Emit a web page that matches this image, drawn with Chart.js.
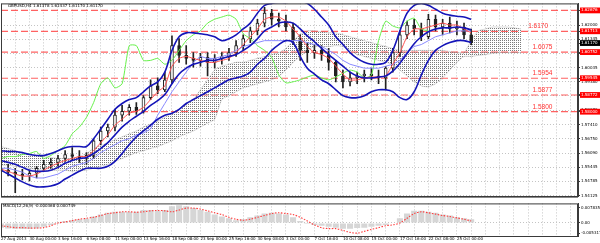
<!DOCTYPE html>
<html>
<head>
<meta charset="utf-8">
<script src="https://cdn.jsdelivr.net/npm/chart.js@4.4.1/dist/chart.umd.min.js"></script>
<style>
  html, body { margin: 0; padding: 0; background: #fff; }
  #wrap { position: relative; width: 600px; height: 243px; overflow: hidden; font-family: "DejaVu Sans", sans-serif; }
  .box { position: absolute; left: 0; width: 600px; }
  .hdr { position: absolute; left: 8px; font-size: 4px; color: #000; white-space: nowrap; }
</style>
</head>
<body>
<div id="wrap">
  <div class="box" style="top:0;height:200px"><canvas id="main"></canvas></div>
  <div class="box" style="top:200px;height:43px"><canvas id="macd"></canvas></div>
  <div class="hdr" style="top:3px">GBPUSD,H4 1.61378 1.61437 1.61170 1.61170</div>
  <div class="hdr" style="top:203px;left:3px">MACD(12,26,9) -0.000368 0.000749</div>
</div>
<script>
// ---- data (H4 bars, one slot = 4 bars) ----
const slotCount = 82;
const timeLabels = ['27 Aug 2013', '30 Aug 00:00', '3 Sep 16:00', '6 Sep 08:00', '11 Sep 00:00', '13 Sep 16:00',
  '18 Sep 08:00', '23 Sep 00:00', '25 Sep 16:00', '30 Sep 08:00', '3 Oct 00:00', '7 Oct 16:00',
  '10 Oct 08:00', '15 Oct 00:00', '17 Oct 16:00', '22 Oct 08:00', '25 Oct 00:00'];

const opens = [1.5539,1.5530,1.5521,1.5512,1.5503,1.5516,1.5539,1.5557,1.5566,1.5584,1.5602,1.5593,1.5584,1.5598,1.5666,1.5711,1.5729,1.5784,1.5802,1.5820,1.5802,1.5865,1.5919,1.5901,1.5947,1.6105,1.6060,1.6046,1.6037,1.6051,1.6028,1.6046,1.6055,1.6073,1.6105,1.6137,1.6173,1.6209,1.6255,1.6227,1.6218,1.6191,1.6128,1.6083,1.6073,1.6083,1.6064,1.6028,1.5965,1.5938,1.5956,1.5965,1.5974,1.5965,1.5956,1.6001,1.6073,1.6155,1.6200,1.6182,1.6146,1.6227,1.6191,1.6209,1.6182,1.6191,1.6155];
const highs = [1.5562,1.5557,1.5539,1.5534,1.5530,1.5548,1.5575,1.5584,1.5598,1.5620,1.5634,1.5620,1.5611,1.5675,1.5729,1.5743,1.5811,1.5829,1.5833,1.5842,1.5874,1.5947,1.5956,1.5983,1.6150,1.6137,1.6105,1.6073,1.6069,1.6073,1.6064,1.6073,1.6092,1.6128,1.6155,1.6191,1.6227,1.6282,1.6273,1.6255,1.6246,1.6209,1.6155,1.6119,1.6110,1.6105,1.6092,1.6037,1.5992,1.5983,1.5983,1.5992,1.6001,1.5992,1.6010,1.6092,1.6173,1.6218,1.6227,1.6209,1.6250,1.6246,1.6227,1.6237,1.6218,1.6209,1.6182];
const lows = [1.5512,1.5503,1.5426,1.5485,1.5480,1.5494,1.5530,1.5539,1.5548,1.5571,1.5575,1.5566,1.5557,1.5584,1.5648,1.5684,1.5711,1.5756,1.5784,1.5788,1.5793,1.5856,1.5883,1.5892,1.5929,1.6028,1.6019,1.6006,1.6010,1.5965,1.6001,1.6019,1.6037,1.6055,1.6083,1.6119,1.6155,1.6191,1.6200,1.6191,1.6173,1.6110,1.6037,1.6028,1.6046,1.6037,1.5992,1.5938,1.5910,1.5919,1.5929,1.5938,1.5947,1.5929,1.5901,1.5983,1.6055,1.6137,1.6155,1.6128,1.6137,1.6173,1.6155,1.6164,1.6155,1.6137,1.6110];
const closes = [1.5530,1.5521,1.5512,1.5503,1.5516,1.5539,1.5557,1.5566,1.5584,1.5602,1.5593,1.5584,1.5598,1.5666,1.5711,1.5729,1.5784,1.5802,1.5820,1.5802,1.5865,1.5919,1.5901,1.5947,1.6105,1.6060,1.6046,1.6037,1.6051,1.6028,1.6046,1.6055,1.6073,1.6105,1.6137,1.6173,1.6209,1.6255,1.6227,1.6218,1.6191,1.6128,1.6083,1.6073,1.6083,1.6064,1.6028,1.5965,1.5938,1.5956,1.5965,1.5974,1.5965,1.5956,1.6001,1.6073,1.6155,1.6200,1.6182,1.6146,1.6227,1.6191,1.6209,1.6182,1.6191,1.6155,1.6117];

// Bollinger bands
const bbUpper = [1.5620,1.5616,1.5616,1.5611,1.5602,1.5598,1.5598,1.5607,1.5620,1.5634,1.5639,1.5639,1.5639,1.5675,1.5720,1.5765,1.5811,1.5838,1.5856,1.5865,1.5892,1.5919,1.5938,1.5983,1.6083,1.6146,1.6164,1.6164,1.6160,1.6155,1.6146,1.6128,1.6137,1.6155,1.6182,1.6209,1.6255,1.6291,1.6300,1.6304,1.6304,1.6309,1.6309,1.6300,1.6273,1.6237,1.6200,1.6146,1.6110,1.6073,1.6046,1.6028,1.6019,1.6019,1.6028,1.6083,1.6173,1.6255,1.6291,1.6300,1.6291,1.6273,1.6255,1.6246,1.6241,1.6237,1.6227];
const bbMiddle = [1.5575,1.5566,1.5557,1.5543,1.5530,1.5525,1.5525,1.5530,1.5543,1.5562,1.5575,1.5584,1.5589,1.5607,1.5630,1.5657,1.5693,1.5729,1.5756,1.5779,1.5802,1.5829,1.5851,1.5879,1.5929,1.5974,1.6001,1.6019,1.6028,1.6037,1.6037,1.6046,1.6055,1.6064,1.6083,1.6105,1.6137,1.6173,1.6191,1.6209,1.6214,1.6209,1.6182,1.6150,1.6123,1.6092,1.6064,1.6037,1.6010,1.5983,1.5965,1.5956,1.5956,1.5960,1.5965,1.5987,1.6024,1.6069,1.6114,1.6146,1.6169,1.6182,1.6187,1.6187,1.6191,1.6187,1.6178];
const bbLower = [1.5530,1.5512,1.5494,1.5476,1.5462,1.5453,1.5453,1.5457,1.5467,1.5489,1.5507,1.5525,1.5539,1.5539,1.5539,1.5548,1.5571,1.5607,1.5648,1.5684,1.5711,1.5738,1.5765,1.5784,1.5793,1.5811,1.5838,1.5856,1.5874,1.5892,1.5910,1.5929,1.5947,1.5956,1.5965,1.5983,1.6019,1.6046,1.6083,1.6110,1.6128,1.6119,1.6055,1.6001,1.5974,1.5947,1.5929,1.5901,1.5874,1.5865,1.5865,1.5874,1.5892,1.5901,1.5901,1.5892,1.5865,1.5856,1.5892,1.5969,1.6037,1.6083,1.6105,1.6119,1.6128,1.6128,1.6119];

// Ichimoku
const tenkan = [1.5534,1.5525,1.5512,1.5503,1.5503,1.5512,1.5530,1.5548,1.5562,1.5575,1.5584,1.5593,1.5593,1.5620,1.5657,1.5693,1.5738,1.5765,1.5793,1.5802,1.5820,1.5856,1.5892,1.5919,1.6010,1.6046,1.6055,1.6046,1.6037,1.6028,1.6028,1.6037,1.6046,1.6073,1.6110,1.6146,1.6182,1.6227,1.6237,1.6237,1.6218,1.6182,1.6146,1.6101,1.6073,1.6064,1.6046,1.6010,1.5974,1.5947,1.5947,1.5956,1.5960,1.5960,1.5965,1.6019,1.6073,1.6146,1.6182,1.6182,1.6191,1.6200,1.6209,1.6200,1.6200,1.6182,1.6164];
const kijun = [1.5539,1.5539,1.5530,1.5521,1.5503,1.5494,1.5494,1.5503,1.5512,1.5530,1.5548,1.5557,1.5566,1.5584,1.5611,1.5630,1.5648,1.5666,1.5675,1.5693,1.5702,1.5720,1.5784,1.5838,1.5892,1.5938,1.5983,1.6028,1.6055,1.6046,1.6046,1.6055,1.6064,1.6083,1.6101,1.6110,1.6119,1.6128,1.6128,1.6128,1.6128,1.6128,1.6128,1.6119,1.6110,1.6101,1.6083,1.6064,1.6037,1.6019,1.6010,1.6001,1.6001,1.6001,1.6010,1.6019,1.6037,1.6073,1.6101,1.6110,1.6128,1.6146,1.6155,1.6164,1.6173,1.6173,1.6173];
const chikou = [1.5584,1.5593,1.5593,1.5602,1.5607,1.5616,1.5584,1.5598,1.5620,1.5643,1.5698,1.5729,1.5774,1.5842,1.5929,1.5956,1.5910,1.5929,1.6105,1.6105,1.6037,1.6037,1.6046,1.6019,1.6037,1.6083,1.6128,1.6155,1.6173,1.6209,1.6227,1.6237,1.6246,1.6227,1.6160,1.6137,1.6105,1.6083,1.6051,1.5969,1.5933,1.5938,1.5947,1.5960,1.5969,1.5956,1.5947,1.5960,1.5978,1.5992,1.5983,1.5956,1.5969,1.6128,1.6218,1.6196,1.6187,1.6218,1.6232,1.6182,1.6173];
const spanA = [1.5639,1.5630,1.5620,1.5611,1.5602,1.5598,1.5593,1.5589,1.5584,1.5584,1.5584,1.5593,1.5607,1.5630,1.5643,1.5657,1.5670,1.5684,1.5698,1.5711,1.5729,1.5743,1.5756,1.5774,1.5793,1.5811,1.5833,1.5856,1.5901,1.5947,1.5992,1.6010,1.6019,1.6028,1.6028,1.6037,1.6046,1.6055,1.6064,1.6073,1.6092,1.6128,1.6155,1.6173,1.6173,1.6169,1.6164,1.6164,1.6155,1.6146,1.6137,1.6128,1.6119,1.6110,1.6101,1.6092,1.6083,1.6083,1.6083,1.6083,1.6083,1.6083,1.6083,1.6078,1.6073,1.6073,1.6128,1.6173,1.6182,1.6191,1.6191,1.6191,1.6187,1.6182];
const spanB = [1.5553,1.5553,1.5548,1.5543,1.5539,1.5534,1.5530,1.5530,1.5530,1.5530,1.5525,1.5530,1.5530,1.5539,1.5548,1.5557,1.5571,1.5584,1.5598,1.5611,1.5620,1.5630,1.5639,1.5652,1.5666,1.5684,1.5698,1.5711,1.5729,1.5747,1.5765,1.5856,1.5874,1.5892,1.5910,1.5919,1.5929,1.5938,1.5947,1.5965,1.5992,1.6028,1.6055,1.6083,1.6101,1.6101,1.6101,1.6105,1.6101,1.6083,1.6064,1.6055,1.6046,1.6037,1.6028,1.6019,1.5992,1.5965,1.5938,1.5919,1.5915,1.5929,1.5956,1.5992,1.6028,1.6055,1.6055,1.6060,1.6064,1.6069,1.6073,1.6073,1.6073,1.6073];

// horizontal levels and price axis
const levels = [1.62676, 1.61713, 1.60752, 1.59545, 1.58772, 1.58000];
const levelTexts = ['', '1.6170', '1.6075', '1.5954', '1.5877', '1.5800'];
const priceTicks = [1.62000, 1.61345, 1.60690, 1.60035, 1.59380, 1.58725, 1.58070, 1.57410, 1.56750, 1.56090, 1.55445, 1.54785, 1.54125];
const lastPrice = 1.61170;

// MACD
const macdMain = [-0.0024,-0.0028,-0.0029,-0.0031,-0.0031,-0.0028,-0.0019,-0.0010,-0.0001,0.0009,0.0014,0.0019,0.0021,0.0033,0.0043,0.0052,0.0057,0.0057,0.0057,0.0057,0.0066,0.0066,0.0062,0.0066,0.0086,0.0090,0.0086,0.0076,0.0066,0.0057,0.0043,0.0033,0.0024,0.0014,0.0019,0.0029,0.0038,0.0048,0.0052,0.0048,0.0043,0.0029,0.0010,-0.0005,-0.0010,-0.0014,-0.0019,-0.0024,-0.0029,-0.0029,-0.0026,-0.0024,-0.0019,-0.0014,-0.0010,0.0000,0.0024,0.0048,0.0062,0.0062,0.0057,0.0052,0.0043,0.0038,0.0029,0.0024,0.0019];
const macdSignal = [-0.0014,-0.0019,-0.0024,-0.0024,-0.0026,-0.0026,-0.0024,-0.0014,0.0000,0.0005,0.0012,0.0019,0.0024,0.0029,0.0038,0.0048,0.0052,0.0057,0.0057,0.0055,0.0057,0.0062,0.0064,0.0062,0.0057,0.0066,0.0076,0.0076,0.0071,0.0062,0.0052,0.0043,0.0029,0.0019,0.0014,0.0019,0.0029,0.0038,0.0048,0.0052,0.0048,0.0043,0.0029,0.0010,-0.0010,-0.0024,-0.0029,-0.0029,-0.0038,-0.0048,-0.0052,-0.0043,-0.0033,-0.0024,-0.0014,-0.0010,0.0000,0.0024,0.0048,0.0057,0.0052,0.0045,0.0038,0.0033,0.0026,0.0019,0.0010];
const macdTicks = [0.007835, 0, -0.005317];
const macdTickLabels = ['0.007835', '0.00', '-0.005317'];

// ---- helpers ----
const slots = Array.from({ length: slotCount }, (_, i) => String(i));
const tickFont = { size: 4, family: '"DejaVu Sans", sans-serif' };
const isLevel = v => levels.some(l => Math.abs(l - v) < 1e-7);
const gridGray = '#c4c4c4';
const frameColor = '#3a3a3a';

// dotted pattern for the cloud
const pc = document.createElement('canvas');
pc.width = 2; pc.height = 2;
const pg = pc.getContext('2d');
pg.fillStyle = '#7a7a7a';
pg.fillRect(0, 0, 1, 1);
const cloudPattern = pg.createPattern(pc, 'repeat');

// frame around the plot area
const framePlugin = {
  id: 'frame',
  afterDraw(chart) {
    const { ctx, chartArea: a } = chart;
    ctx.save();
    ctx.strokeStyle = frameColor;
    ctx.lineWidth = 1;
    ctx.strokeRect(a.left + 0.5, a.top + 0.5, a.right - a.left - 1, a.bottom - a.top);
    ctx.restore();
  }
};

// red captions above the level lines
const levelTextPlugin = {
  id: 'levelText',
  afterDatasetsDraw(chart) {
    const { ctx, scales: { x, y } } = chart;
    ctx.save();
    ctx.font = '6.5px "Liberation Sans", Arial, sans-serif';
    ctx.fillStyle = '#ff3030';
    ctx.textAlign = 'right';
    ctx.textBaseline = 'bottom';
    levels.forEach((v, i) => {
      if (!levelTexts[i]) return;
      const slot = i === 1 ? 76.8 : 77.4;
      ctx.fillText(levelTexts[i], x.getPixelForValue(slot), y.getPixelForValue(v) - 1.5);
    });
    ctx.restore();
  }
};

const line = (data, color, width, order, extra) => Object.assign({
  type: 'line', data, borderColor: color, borderWidth: width, pointRadius: 0,
  tension: 0.35, fill: false, order
}, extra || {});

const levelSets = levels.map(v => line(
  [{ x: slots[0], y: v }, { x: slots[slotCount - 1], y: v }],
  'rgba(255,70,70,0.85)', 1.2, 20, { tension: 0, borderDash: [7, 3] }
));

// ---- main price chart ----
new Chart(document.getElementById('main'), {
  type: 'bar',
  data: {
    labels: slots,
    datasets: [
      ...levelSets,
      line(spanA, 'rgba(120,120,120,0.45)', 0.6, 12, { fill: '+1', backgroundColor: cloudPattern, tension: 0.2 }),
      line(spanB, 'rgba(120,120,120,0.45)', 0.6, 12, { tension: 0.2 }),
      {
        type: 'bar', data: lows.map((l, i) => [l, highs[i]]), backgroundColor: '#222',
        barThickness: 1, grouped: false, order: 8
      },
      {
        type: 'bar', data: opens.map((o, i) => [o, closes[i]]),
        backgroundColor: c => (closes[c.dataIndex] >= opens[c.dataIndex] ? '#ffffff' : '#222222'),
        borderColor: '#222', borderWidth: 1, borderSkipped: false,
        barThickness: 3, grouped: false, order: 7
      },
      line(chikou, '#66f04a', 1, 6, { tension: 0.2 }),
      line(kijun, '#8a8aff', 1, 5, { tension: 0 }),
      line(tenkan, '#ff5050', 1, 4, { tension: 0.2 }),
      line(bbLower, '#1414b8', 1.6, 2),
      line(bbMiddle, '#1414b8', 1.6, 2),
      line(bbUpper, '#1414b8', 1.6, 2)
    ]
  },
  options: {
    responsive: true,
    maintainAspectRatio: false,
    animation: false,
    layout: { padding: { top: 2, left: 1, right: 0, bottom: 1 } },
    plugins: { legend: { display: false }, tooltip: { enabled: false } },
    scales: {
      x: {
        type: 'category',
        offset: false,
        ticks: { display: false, autoSkip: false },
        grid: { offset: false, drawTicks: false, color: c => (c.index % 2 === 0 ? gridGray : 'rgba(0,0,0,0)') },
        border: { color: frameColor, dash: [1, 2] },
        afterFit: s => { s.height = 0; }
      },
      y: {
        type: 'linear',
        position: 'right',
        min: 1.5408,
        max: 1.6300,
        afterBuildTicks: s => { s.ticks = [...priceTicks, ...levels, lastPrice].map(v => ({ value: v })); },
        afterFit: s => { s.width = 22; },
        ticks: {
          autoSkip: false,
          font: tickFont,
          padding: 1,
          callback: v => v.toFixed(5),
          color: c => (isLevel(c.tick.value) || c.tick.value === lastPrice ? '#ffffff' : '#000000'),
          showLabelBackdrop: c => isLevel(c.tick.value) || c.tick.value === lastPrice,
          backdropColor: c => (c.tick.value === lastPrice ? '#000000' : '#ff0000'),
          backdropPadding: { top: 0.5, bottom: 0.5, left: 1, right: 4 }
        },
        grid: {
          tickLength: 2,
          tickColor: frameColor,
          color: c => (priceTicks.includes(c.tick.value) ? gridGray : 'rgba(0,0,0,0)')
        },
        border: { color: frameColor, dash: [1, 2] }
      }
    }
  },
  plugins: [framePlugin, levelTextPlugin]
});

// ---- MACD panel ----
new Chart(document.getElementById('macd'), {
  type: 'bar',
  data: {
    labels: slots,
    datasets: [
      line(macdSignal, '#ff3a3a', 1.1, 1, { borderDash: [1.5, 1.5], tension: 0.3 }),
      {
        type: 'bar', data: macdMain, backgroundColor: '#d6d6d6',
        barPercentage: 0.85, categoryPercentage: 1, grouped: false, order: 2
      }
    ]
  },
  options: {
    responsive: true,
    maintainAspectRatio: false,
    animation: false,
    layout: { padding: { top: 1, left: 1, right: 0, bottom: 0 } },
    plugins: { legend: { display: false }, tooltip: { enabled: false } },
    scales: {
      x: {
        type: 'category',
        offset: false,
        ticks: {
          autoSkip: false, maxRotation: 0, align: 'start', padding: 1, font: tickFont, color: '#000',
          callback: (v, i) => (i % 4 === 0 ? (timeLabels[i / 4] || '') : '')
        },
        grid: { offset: false, drawTicks: false, color: c => (c.index % 2 === 0 ? gridGray : 'rgba(0,0,0,0)') },
        border: { color: frameColor, dash: [1, 2] },
        afterFit: s => { s.height = 7; }
      },
      y: {
        type: 'linear',
        position: 'right',
        min: -0.00667,
        max: 0.0100,
        afterBuildTicks: s => { s.ticks = macdTicks.map(v => ({ value: v })); },
        afterFit: s => { s.width = 22; },
        ticks: {
          autoSkip: false, font: tickFont, color: '#000', padding: 1,
          callback: (v, i) => macdTickLabels[i]
        },
        grid: {
          tickLength: 2,
          tickColor: frameColor,
          color: c => (c.tick.value === 0 ? gridGray : 'rgba(0,0,0,0)')
        },
        border: { color: frameColor, dash: [1, 2] }
      }
    }
  },
  plugins: [framePlugin]
});
</script>
</body>
</html>
